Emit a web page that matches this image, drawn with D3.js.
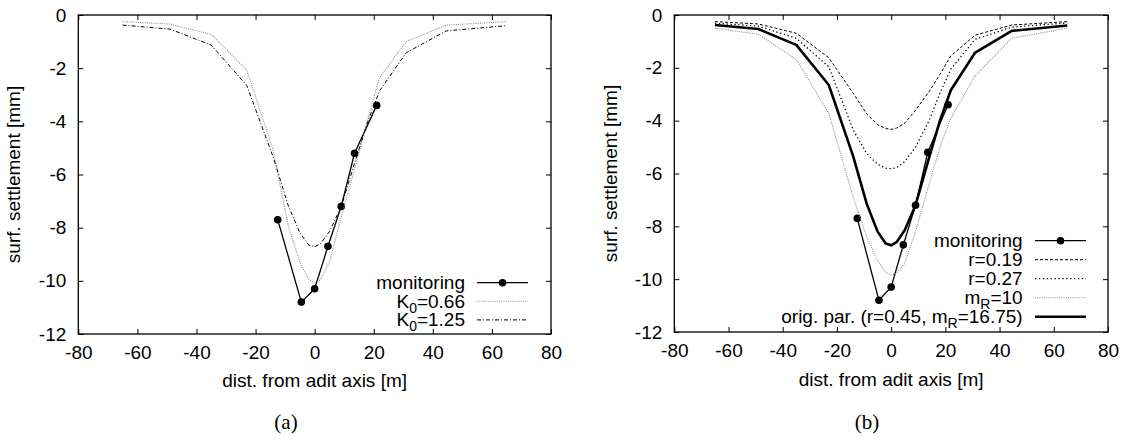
<!DOCTYPE html>
<html>
<head>
<meta charset="utf-8">
<script src="https://cdn.jsdelivr.net/npm/d3@7"></script>
<style>
body { margin: 0; background: #fff; }
svg { font-family: "Liberation Sans", Arial, sans-serif; }
</style>
</head>
<body>
<svg id="chart" width="1128" height="440"></svg>
<script>
// axis ticks
const xTicks = [-80, -60, -40, -20, 0, 20, 40, 60, 80];
const yTicks = [0, -2, -4, -6, -8, -10, -12];

// monitoring points
const monDist = [-12.5, -4.5, 0, 4.5, 9, 13.5, 21];
const monSettle = [-7.7, -10.8, -10.3, -8.7, -7.2, -5.2, -3.4];

// computed profiles, all sampled at the same distances
const calcDist = [-65, -49, -35, -23, -14, -9, -5, -2, 0, 2, 5, 9, 14, 18, 22, 31, 44.5, 65];
const k0_066 = [-0.25, -0.34, -0.73, -2.07, -5.1, -7.9, -9.3, -9.95, -10.1, -9.95, -9.3, -7.6, -5.6, -3.9, -2.35, -1.0, -0.38, -0.25];
const k0_125 = [-0.38, -0.53, -1.13, -2.65, -5.35, -7.15, -8.2, -8.65, -8.72, -8.6, -8.15, -7.2, -5.4, -4.0, -2.85, -1.42, -0.6, -0.4];
const r019 = [-0.25, -0.34, -0.69, -1.62, -2.96, -3.75, -4.15, -4.3, -4.33, -4.28, -4.1, -3.6, -2.9, -2.25, -1.55, -0.76, -0.38, -0.25];
const r027 = [-0.31, -0.42, -0.88, -1.96, -4.35, -5.25, -5.65, -5.8, -5.82, -5.78, -5.55, -5.0, -4.0, -2.96, -2.05, -0.92, -0.46, -0.3];
const mR10 = [-0.5, -0.73, -1.68, -3.72, -6.9, -8.4, -9.3, -9.75, -9.84, -9.78, -9.4, -8.2, -6.4, -5.0, -3.9, -2.3, -0.88, -0.5];
const origPar = k0_125; // original parameters = K0 1.25 case

const svg = d3.select("#chart");

// line styles
const styles = {
  monitoring: { stroke: "#000", width: 1.3, dash: null, marker: true },
  grayDot: { stroke: "#8a8a8a", width: 1.1, dash: "1,1.2" },
  dashDot: { stroke: "#000", width: 1, dash: "4,2,1,2" },
  dashed: { stroke: "#000", width: 1, dash: "3,2" },
  dotted: { stroke: "#000", width: 1.3, dash: "1.3,2.6" },
  thick: { stroke: "#000", width: 2.6, dash: null }
};

const zip = (xs, ys) => xs.map((d, i) => [d, ys[i]]);

/**
 * Draw one panel with frame, axes, curves and legend.
 */
function drawPanel(cfg) {
  const g = svg.append("g");

  const x = d3.scaleLinear().domain([-80, 80]).range([cfg.left, cfg.right]);
  const y = d3.scaleLinear().domain([-12, 0]).range([cfg.bottom, cfg.top]);

  // axes with inward ticks on all four sides
  const axes = [
    [d3.axisBottom(x).tickValues(xTicks).tickFormat(d => String(d)), `translate(0,${cfg.bottom})`],
    [d3.axisTop(x).tickValues(xTicks).tickFormat(""), `translate(0,${cfg.top})`],
    [d3.axisLeft(y).tickValues(yTicks).tickFormat(d => String(d)), `translate(${cfg.left},0)`],
    [d3.axisRight(y).tickValues(yTicks).tickFormat(""), `translate(${cfg.right},0)`]
  ];
  axes.forEach(([ax, tr]) => {
    const a = g.append("g").attr("transform", tr)
      .call(ax.tickSizeInner(-5).tickSizeOuter(0).tickPadding(12));
    a.select(".domain").remove();
    a.selectAll("line").attr("stroke", "#000");
    a.selectAll("text").attr("font-size", 19).attr("fill", "#000")
      .attr("font-family", "Liberation Sans, Arial, sans-serif");
  });

  // frame
  g.append("rect")
    .attr("x", cfg.left).attr("y", cfg.top)
    .attr("width", cfg.right - cfg.left).attr("height", cfg.bottom - cfg.top)
    .attr("fill", "none").attr("stroke", "#000").attr("stroke-width", 1.3);

  const line = d3.line().x(d => x(d[0])).y(d => y(d[1]));

  // curves
  cfg.series.forEach(s => {
    g.append("path")
      .datum(zip(s.xs, s.ys))
      .attr("d", line)
      .attr("fill", "none")
      .attr("stroke", s.style.stroke)
      .attr("stroke-width", s.style.width)
      .attr("stroke-dasharray", s.style.dash)
      .attr("stroke-linejoin", "round");
    if (s.style.marker) {
      g.selectAll(null)
        .data(zip(s.xs, s.ys))
        .enter()
        .append("circle")
        .attr("cx", d => x(d[0]))
        .attr("cy", d => y(d[1]))
        .attr("r", 3.8)
        .attr("fill", "#000");
    }
  });

  // legend
  const leg = g.append("g");
  cfg.series.forEach((s, i) => {
    const ly = cfg.legY + i * cfg.legStep;
    const t = leg.append("text")
      .attr("x", cfg.legTextX).attr("y", ly + 6.5)
      .attr("text-anchor", "end").attr("font-size", 19);
    let shift = 0; // pending baseline reset after a subscript
    s.label.forEach(p => {
      if (typeof p === "object") {
        t.append("tspan").attr("font-size", 14).attr("dy", 5).text(p.sub);
        shift = -5;
      } else {
        t.append("tspan").attr("dy", shift).text(p);
        shift = 0;
      }
    });
    leg.append("line")
      .attr("x1", cfg.legLine[0]).attr("x2", cfg.legLine[1])
      .attr("y1", ly).attr("y2", ly)
      .attr("stroke", s.style.stroke)
      .attr("stroke-width", s.style.width)
      .attr("stroke-dasharray", s.style.dash);
    if (s.style.marker) {
      leg.append("circle")
        .attr("cx", (cfg.legLine[0] + cfg.legLine[1]) / 2).attr("cy", ly)
        .attr("r", 3.8).attr("fill", "#000");
    }
  });

  // axis titles
  g.append("text")
    .attr("x", (cfg.left + cfg.right) / 2).attr("y", cfg.xTitleY)
    .attr("text-anchor", "middle").attr("font-size", 19)
    .text("dist. from adit axis [m]");
  g.append("text")
    .attr("transform", `translate(${cfg.yTitleX},${(cfg.top + cfg.bottom) / 2}) rotate(-90)`)
    .attr("text-anchor", "middle").attr("font-size", 19)
    .text("surf. settlement [mm]");

  // panel label
  g.append("text")
    .attr("x", cfg.tagX).attr("y", 429)
    .attr("text-anchor", "middle")
    .attr("font-family", "Liberation Serif, Times New Roman, serif")
    .attr("font-size", 21)
    .text(cfg.tag);
}

drawPanel({
  left: 78.3, right: 551, top: 15, bottom: 334,
  xTitleY: 387, yTitleX: 20, tag: "(a)", tagX: 286,
  legTextX: 465, legLine: [477, 528], legY: 282.7, legStep: 18.6,
  series: [
    { xs: monDist, ys: monSettle, style: styles.monitoring, label: ["monitoring"] },
    { xs: calcDist, ys: k0_066, style: styles.grayDot, label: ["K", { sub: "0" }, "=0.66"] },
    { xs: calcDist, ys: k0_125, style: styles.dashDot, label: ["K", { sub: "0" }, "=1.25"] }
  ]
});

drawPanel({
  left: 674.3, right: 1108, top: 15, bottom: 332,
  xTitleY: 385.5, yTitleX: 617, tag: "(b)", tagX: 867,
  legTextX: 1022.7, legLine: [1035, 1086], legY: 240.7, legStep: 19,
  series: [
    { xs: monDist, ys: monSettle, style: styles.monitoring, label: ["monitoring"] },
    { xs: calcDist, ys: r019, style: styles.dashed, label: ["r=0.19"] },
    { xs: calcDist, ys: r027, style: styles.dotted, label: ["r=0.27"] },
    { xs: calcDist, ys: mR10, style: styles.grayDot, label: ["m", { sub: "R" }, "=10"] },
    { xs: calcDist, ys: origPar, style: styles.thick, label: ["orig. par. (r=0.45, m", { sub: "R" }, "=16.75)"] }
  ]
});
</script>
</body>
</html>
